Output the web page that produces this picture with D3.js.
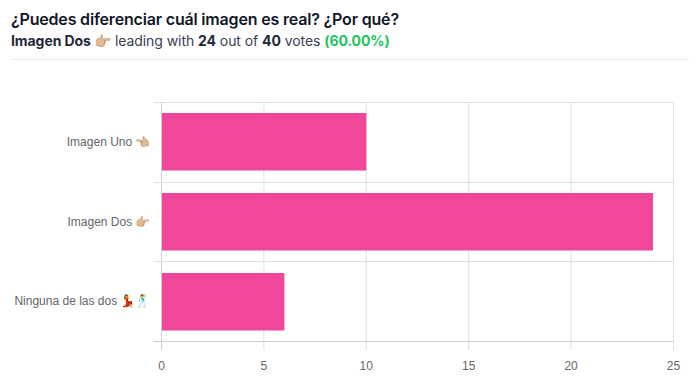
<!DOCTYPE html>
<html>
<head>
<meta charset="utf-8">
<script src="https://cdn.jsdelivr.net/npm/d3@7"></script>
<style>
  html, body { margin: 0; padding: 0; background: #fff; }
  svg { display: block; }
  .grid line { stroke: #e0e0e0; stroke-width: 1; }
  .tick-label { font-family: "Liberation Sans", sans-serif; font-size: 12px; fill: #666; }
</style>
</head>
<body>
<div id="chart"></div>
<script>
const categories = ["Imagen Uno 👈🏼", "Imagen Dos 👉🏼", "Ninguna de las dos 💃🕺"];
const votes = [10, 24, 6];
const xTicks = [0, 5, 10, 15, 20, 25];

const width = 700,
  height = 390,
  margin = { top: 102, bottom: 49, left: 161.5, right: 26.5 };

const svg = d3.select("#chart")
  .append("svg")
  .attr("width", width)
  .attr("height", height);

// header
const headFont = "Inter, sans-serif";
svg.append("text")
  .attr("x", 11).attr("y", 25)
  .attr("font-family", headFont).attr("font-size", 16).attr("font-weight", 600)
  .attr("letter-spacing", -0.18)
  .attr("fill", "#111827")
  .text("¿Puedes diferenciar cuál imagen es real? ¿Por qué?");

const sub = svg.append("text")
  .attr("x", 11).attr("y", 46)
  .attr("font-family", headFont).attr("font-size", 14)
  .attr("letter-spacing", -0.07)
  .attr("fill", "#374151");
sub.append("tspan").attr("font-weight", 700).attr("fill", "#1f2937").text(categories[1]);
sub.append("tspan").text(" leading with ");
sub.append("tspan").attr("font-weight", 700).attr("fill", "#1f2937").text(votes[1]);
sub.append("tspan").text(" out of ");
sub.append("tspan").attr("font-weight", 700).attr("fill", "#1f2937").text(d3.sum(votes));
sub.append("tspan").text(" votes ");
sub.append("tspan").attr("font-weight", 700).attr("fill", "#22c55e")
  .text("(" + (votes[1] / d3.sum(votes) * 100).toFixed(2) + "%)");

svg.append("line")
  .attr("x1", 11).attr("x2", 689)
  .attr("y1", 59.5).attr("y2", 59.5)
  .attr("stroke", "#e5e7eb");

const xScale = d3.scaleLinear()
  .domain([0, 25])
  .range([margin.left, width - margin.right]);

const yScale = d3.scaleBand()
  .domain(categories)
  .range([margin.top, height - margin.bottom])
  .paddingInner(0.28)
  .paddingOuter(0.14);

const edges = d3.range(categories.length + 1).map(i => margin.top + i * (height - margin.top - margin.bottom) / categories.length);

// gridlines
const grid = svg.append("g").attr("class", "grid");
grid.selectAll(".v")
  .data(xTicks)
  .join("line")
  .attr("class", "v")
  .attr("x1", d => xScale(d)).attr("x2", d => xScale(d))
  .attr("y1", margin.top).attr("y2", height - margin.bottom + 9)
  .style("stroke", d => d === 0 ? "#cfcfcf" : null);
grid.selectAll(".h")
  .data(edges)
  .join("line")
  .attr("class", "h")
  .attr("x1", margin.left - 8).attr("x2", width - margin.right)
  .attr("y1", d => Math.round(d) + 0.5).attr("y2", d => Math.round(d) + 0.5)
  .style("stroke", (d, i) => i === categories.length ? "#cfcfcf" : null);

// bars start just right of the zero line so it stays visible
svg.selectAll("rect")
  .data(votes)
  .join("rect")
  .attr("x", xScale(0) + 0.5)
  .attr("y", (d, i) => Math.round(yScale(categories[i]) + 0.3))
  .attr("width", d => xScale(d) - xScale(0) - 0.5)
  .attr("height", 57.5)
  .attr("fill", "#f0479b");

svg.selectAll(".y-label")
  .data(categories)
  .join("text")
  .attr("class", "tick-label y-label")
  .attr("x", margin.left - 11)
  .attr("y", d => yScale(d) + yScale.bandwidth() / 2)
  .attr("dy", "0.35em")
  .attr("text-anchor", "end")
  .text(d => d);

svg.selectAll(".x-label")
  .data(xTicks)
  .join("text")
  .attr("class", "tick-label x-label")
  .attr("x", d => xScale(d))
  .attr("y", height - margin.bottom + 29)
  .attr("text-anchor", "middle")
  .text(d => d);
</script>
</body>
</html>
